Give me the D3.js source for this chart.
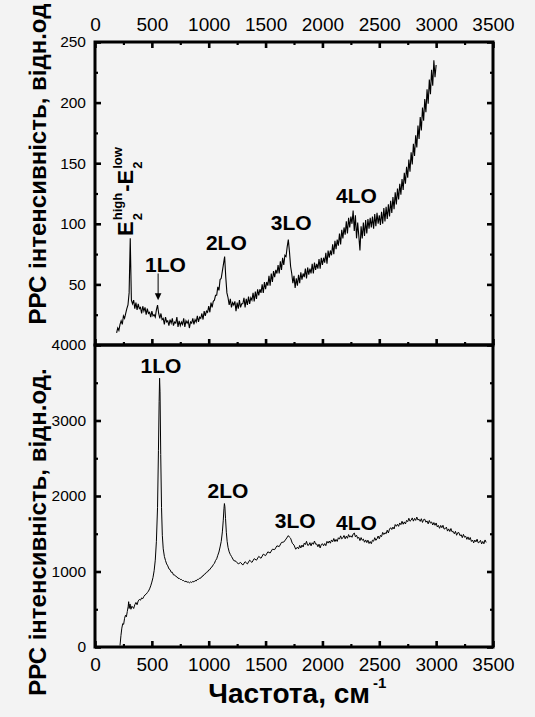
<!DOCTYPE html>
<html>
<head>
<meta charset="utf-8">
<script src="https://cdn.jsdelivr.net/npm/d3@7"></script>
<style>
  html, body { margin: 0; padding: 0; background: #f3f3f3; }
  svg { display: block; }
  text { font-family: "Liberation Sans", Arial, sans-serif; fill: #000; }
</style>
</head>
<body>
<svg id="chart" width="535" height="717"></svg>
<script>
// Raman spectrum, upper panel: [shift cm^-1, intensity]
const topSpectrum = [
[190,10],[200,14],[210,12],[220,17],[230,20],[240,17],[250,24],[260,22],[270,26],[280,30],[290,33],[300,43],[310,88],[320,37],[330,34],[340,37],[350,30],[360,35],[370,29],[380,34],[390,30],[400,31],[410,26],[420,32],[430,28],[440,31],[450,25],[460,30],[470,26],[480,27],[490,23],[500,28],[510,24],[520,25],[530,23],[540,29],[550,33],[560,26],[570,22],[580,26],[590,21],[600,22],[610,17],[620,23],[630,19],[640,20],[650,16],[660,21],[670,18],[680,22],[690,16],[700,19],[710,18],[720,23],[730,15],[740,20],[750,16],[760,19],[770,17],[780,22],[790,15],[800,20],[810,18],[820,20],[830,14],[840,19],[850,18],[860,22],[870,17],[880,21],[890,19],[900,24],[910,19],[920,23],[930,22],[940,26],[950,21],[960,28],[970,24],[980,28],[990,27],[1000,32],[1010,27],[1020,35],[1030,31],[1040,36],[1050,37],[1060,41],[1070,41],[1080,48],[1090,45],[1100,54],[1110,55],[1120,61],[1130,67],[1140,73],[1150,56],[1160,43],[1170,39],[1180,33],[1190,38],[1200,31],[1210,35],[1220,33],[1230,36],[1240,28],[1250,35],[1260,30],[1270,37],[1280,31],[1290,34],[1300,34],[1310,39],[1320,31],[1330,38],[1340,33],[1350,40],[1360,34],[1370,39],[1380,37],[1390,43],[1400,36],[1410,44],[1420,38],[1430,46],[1440,41],[1450,46],[1460,43],[1470,50],[1480,43],[1490,52],[1500,46],[1510,52],[1520,49],[1530,57],[1540,49],[1550,59],[1560,52],[1570,61],[1580,56],[1590,62],[1600,59],[1610,66],[1620,59],[1630,69],[1640,62],[1650,72],[1660,66],[1670,74],[1680,73],[1690,81],[1700,87],[1710,77],[1720,65],[1730,59],[1740,51],[1750,57],[1760,47],[1770,55],[1780,49],[1790,58],[1800,51],[1810,60],[1820,54],[1830,59],[1840,56],[1850,63],[1860,55],[1870,64],[1880,58],[1890,63],[1900,59],[1910,67],[1920,59],[1930,68],[1940,62],[1950,67],[1960,63],[1970,71],[1980,63],[1990,72],[2000,66],[2010,72],[2020,68],[2030,76],[2040,67],[2050,78],[2060,72],[2070,78],[2080,74],[2090,83],[2100,75],[2110,86],[2120,79],[2130,87],[2140,82],[2150,92],[2160,83],[2170,95],[2180,88],[2190,97],[2200,91],[2210,102],[2220,92],[2230,105],[2240,97],[2250,106],[2260,100],[2270,111],[2280,94],[2290,107],[2300,88],[2310,101],[2320,90],[2330,78],[2340,98],[2350,88],[2360,101],[2370,90],[2380,103],[2390,92],[2400,104],[2410,96],[2420,105],[2430,97],[2440,106],[2450,96],[2460,108],[2470,98],[2480,109],[2490,100],[2500,107],[2510,99],[2520,110],[2530,100],[2540,113],[2550,102],[2560,114],[2570,104],[2580,116],[2590,106],[2600,119],[2610,109],[2620,122],[2630,112],[2640,126],[2650,116],[2660,129],[2670,120],[2680,133],[2690,124],[2700,137],[2710,128],[2720,142],[2730,133],[2740,147],[2750,138],[2760,153],[2770,143],[2780,159],[2790,149],[2800,166],[2810,156],[2820,173],[2830,163],[2840,181],[2850,170],[2860,188],[2870,177],[2880,196],[2890,185],[2900,203],[2910,192],[2920,211],[2930,199],[2940,219],[2950,207],[2960,227],[2970,214],[2980,235],[2990,221],[3000,231]
];

// Raman spectrum, lower panel: [shift cm^-1, intensity]
const bottomSpectrum = [
[220,20],[228,150],[236,250],[244,310],[252,300],[260,380],[268,420],[276,400],[284,470],[292,540],[296,600],[300,510],[308,570],[316,500],[324,540],[332,530],[340,510],[350,560],[360,590],[370,560],[380,610],[390,630],[400,620],[410,650],[420,640],[430,670],[440,690],[450,700],[460,720],[470,740],[480,770],[490,810],[500,860],[510,920],[520,1010],[530,1150],[540,1400],[550,1850],[558,2600],[564,3250],[568,3560],[572,3380],[578,2550],[585,1850],[592,1480],[600,1300],[610,1200],[620,1145],[630,1100],[640,1075],[650,1035],[660,1025],[670,990],[680,990],[690,955],[700,955],[710,935],[720,930],[730,910],[740,910],[750,895],[760,895],[770,880],[780,880],[790,865],[800,872],[810,858],[820,862],[830,850],[840,862],[850,855],[860,868],[870,862],[880,880],[890,875],[900,895],[910,895],[920,912],[930,912],[940,935],[950,940],[960,962],[970,968],[980,990],[990,995],[1000,1020],[1010,1025],[1020,1052],[1030,1062],[1040,1090],[1050,1108],[1060,1145],[1070,1168],[1080,1215],[1090,1258],[1100,1325],[1110,1398],[1120,1525],[1128,1680],[1134,1830],[1138,1900],[1142,1860],[1148,1700],[1155,1520],[1162,1400],[1170,1320],[1180,1260],[1190,1225],
[1200,1200],[1220,1145],[1240,1135],[1260,1100],[1280,1120],[1300,1085],[1320,1130],[1340,1100],[1360,1150],[1380,1120],[1400,1170],[1420,1150],[1440,1200],[1460,1175],[1480,1230],[1500,1210],[1520,1260],[1540,1245],[1560,1295],[1580,1290],[1600,1340],[1620,1330],[1640,1385],[1660,1390],[1680,1430],[1700,1475],[1710,1455],[1720,1440],[1735,1375],[1750,1350],[1765,1295],
[1780,1323],[1790,1300],[1800,1345],[1810,1312],[1820,1350],[1830,1324],[1840,1375],[1850,1357],[1860,1400],[1870,1347],[1880,1350],[1890,1382],[1900,1340],[1910,1381],[1920,1360],[1930,1403],[1940,1362],[1950,1364],[1960,1328],[1970,1362],[1980,1312],[1990,1357],[2000,1368],[2010,1341],[2020,1370],[2030,1342],[2040,1399],[2050,1376],[2060,1404],[2070,1375],[2080,1418],[2090,1394],[2100,1437],[2110,1396],[2120,1425],[2130,1398],[2140,1447],[2150,1429],[2160,1472],[2170,1432],[2180,1447],[2190,1477],[2200,1433],[2210,1468],[2220,1440],[2230,1489],[2240,1455],[2250,1473],[2260,1453],[2270,1496],[2280,1510],[2290,1460],[2300,1480],[2310,1438],[2320,1453],[2330,1409],[2340,1449],[2350,1414],[2360,1429],[2370,1388],[2380,1418],[2390,1383],[2400,1415],[2410,1371],[2420,1397],[2430,1368],[2440,1415],[2450,1401],[2460,1448],[2470,1413],[2480,1433],[2490,1470],[2500,1433],[2510,1479],[2520,1462],[2530,1518],[2540,1490],[2550,1514],[2560,1500],[2570,1547],[2580,1510],[2590,1562],[2600,1580],[2610,1556],[2620,1588],[2630,1563],[2640,1622],[2650,1599],[2660,1626],[2670,1598],[2680,1643],[2690,1620],[2700,1665],[2710,1626],[2720,1657],[2730,1629],[2740,1677],[2750,1660],[2760,1705],[2770,1665],[2780,1680],[2790,1710],[2800,1667],[2810,1703],[2820,1677],[2830,1721],[2840,1682],[2850,1692],[2860,1664],[2870,1699],[2880,1650],[2890,1688],[2900,1692],[2910,1653],[2920,1670],[2930,1631],[2940,1676],[2950,1641],[2960,1656],[2970,1616],[2980,1648],[2990,1612],[3000,1643],[3010,1591],[3020,1610],[3030,1572],[3040,1610],[3050,1580],[3060,1612],[3070,1562],[3080,1567],[3090,1588],[3100,1535],[3110,1564],[3120,1530],[3130,1569],[3140,1525],[3150,1531],[3160,1500],[3170,1532],[3180,1480],[3190,1514],[3200,1515],[3210,1474],[3220,1488],[3230,1448],[3240,1492],[3250,1454],[3260,1466],[3270,1426],[3280,1458],[3290,1420],[3300,1450],[3310,1398],[3320,1417],[3330,1379],[3340,1417],[3350,1392],[3360,1428],[3370,1380],[3380,1387],[3390,1413],[3400,1365],[3410,1398],[3420,1367],[3430,1418],[3440,1385]
];

// Axis ticks
const shiftTicks = [0,500,1000,1500,2000,2500,3000,3500];
const shiftMinorTicks = [250,750,1250,1750,2250,2750,3250];
const topTicks = [50,100,150,200,250];
const topMinorTicks = [25,75,125,175,225];
const bottomTicks = [0,1000,2000,3000,4000];
const bottomMinorTicks = [500,1500,2500,3500];

// Peak annotations
const topPeakLabels = ["1LO","2LO","3LO","4LO"];
const topPeakShift = [620,1155,1725,2300];
const topPeakLevel = [60,78,95,117];
const bottomPeakLabels = ["1LO","2LO","3LO","4LO"];
const bottomPeakShift = [580,1170,1760,2300];
const bottomPeakLevel = [3630,1980,1580,1550];

const svg = d3.select("#chart");
const left = 95, right = 493, topY = 42, midY = 345, botY = 647;

const x = d3.scaleLinear().domain([0, 3500]).range([left, right]);
const yTop = d3.scaleLinear().domain([0, 250]).range([midY, topY]);
const yBot = d3.scaleLinear().domain([0, 4000]).range([botY, midY]);

svg.append("rect").attr("width", 535).attr("height", 717).attr("fill", "#f3f3f3");

const defs = svg.append("defs");
defs.append("clipPath").attr("id", "clipTop").append("rect")
  .attr("x", left).attr("y", topY).attr("width", right - left).attr("height", midY - topY);
defs.append("clipPath").attr("id", "clipBot").append("rect")
  .attr("x", left).attr("y", midY).attr("width", right - left).attr("height", botY - midY);

// spectra
const lineTop = d3.line().x(d => x(d[0])).y(d => yTop(d[1]));
const lineBot = d3.line().x(d => x(d[0])).y(d => yBot(d[1]));

svg.append("path").attr("clip-path", "url(#clipTop)")
  .attr("d", lineTop(topSpectrum))
  .attr("fill", "none").attr("stroke", "#000").attr("stroke-width", 1.1)
  .attr("stroke-linejoin", "miter");
svg.append("path").attr("clip-path", "url(#clipBot)")
  .attr("d", lineBot(bottomSpectrum))
  .attr("fill", "none").attr("stroke", "#000").attr("stroke-width", 1)
  .attr("stroke-linejoin", "round");

// axes helper: ticks point inward, domain line drawn by the frame
function drawAxis(axisFn, scale, values, size, pos, labels, fontSize, padding) {
  const ax = axisFn(scale).tickValues(values).tickSize(-size)
    .tickPadding(padding || 8)
    .tickFormat(labels ? d3.format("d") : () => "");
  const g = svg.append("g").attr("transform", pos).call(ax);
  g.select(".domain").remove();
  g.selectAll(".tick line").attr("stroke", "#000").attr("stroke-width", size > 4 ? 2.6 : 2.2);
  g.selectAll(".tick text").attr("font-size", fontSize || 16).attr("fill", "#000")
    .attr("font-family", "'Liberation Sans', Arial, sans-serif");
  return g;
}

// upper panel axes
drawAxis(d3.axisTop, x, shiftTicks, 6, `translate(0,${topY})`, true, 19, 11);
drawAxis(d3.axisTop, x, shiftMinorTicks, 3, `translate(0,${topY})`, false);
drawAxis(d3.axisBottom, x, shiftTicks, 6, `translate(0,${midY})`, false);
drawAxis(d3.axisBottom, x, shiftMinorTicks, 3, `translate(0,${midY})`, false);
drawAxis(d3.axisLeft, yTop, topTicks, 6, `translate(${left},0)`, true, 15.5, 9);
drawAxis(d3.axisLeft, yTop, topMinorTicks, 3, `translate(${left},0)`, false);
drawAxis(d3.axisRight, yTop, topTicks, 6, `translate(${right},0)`, false);
drawAxis(d3.axisRight, yTop, topMinorTicks, 3, `translate(${right},0)`, false);

// lower panel axes
drawAxis(d3.axisBottom, x, shiftTicks, 6, `translate(0,${botY})`, true, 19, 11);
drawAxis(d3.axisBottom, x, shiftMinorTicks, 3, `translate(0,${botY})`, false);
drawAxis(d3.axisLeft, yBot, bottomTicks, 6, `translate(${left},0)`, true, 15.5, 9);
drawAxis(d3.axisLeft, yBot, bottomMinorTicks, 3, `translate(${left},0)`, false);
drawAxis(d3.axisRight, yBot, bottomTicks, 6, `translate(${right},0)`, false);
drawAxis(d3.axisRight, yBot, bottomMinorTicks, 3, `translate(${right},0)`, false);

// panel frames
svg.append("rect").attr("x", left).attr("y", topY).attr("width", right - left).attr("height", midY - topY)
  .attr("fill", "none").attr("stroke", "#000").attr("stroke-width", 3);
svg.append("rect").attr("x", left).attr("y", midY).attr("width", right - left).attr("height", botY - midY)
  .attr("fill", "none").attr("stroke", "#000").attr("stroke-width", 3);

// axis titles
svg.append("text").attr("transform", "translate(46,164) rotate(-90)")
  .attr("text-anchor", "middle").attr("font-size", 24).attr("font-weight", "bold")
  .text("РРС інтенсивність, відн.од");
svg.append("text").attr("transform", "translate(46,532) rotate(-90)")
  .attr("text-anchor", "middle").attr("font-size", 24).attr("font-weight", "bold")
  .text("РРС інтенсивність, відн.од.");
svg.append("text").attr("x", 370).attr("y", 703).attr("text-anchor", "end")
  .attr("font-size", 28).attr("font-weight", "bold").text("Частота, см");
svg.append("text").attr("x", 373).attr("y", 688).attr("text-anchor", "start")
  .attr("font-size", 15).attr("font-weight", "bold").text("-1");

// peak labels
topPeakLabels.forEach((t, i) => {
  svg.append("text").attr("x", x(topPeakShift[i])).attr("y", yTop(topPeakLevel[i]))
    .attr("text-anchor", "middle").attr("font-size", 21).attr("font-weight", "bold").text(t);
});
bottomPeakLabels.forEach((t, i) => {
  svg.append("text").attr("x", x(bottomPeakShift[i])).attr("y", yBot(bottomPeakLevel[i]))
    .attr("text-anchor", "middle").attr("font-size", 21).attr("font-weight", "bold").text(t);
});

// arrow marking the weak 1LO line in the upper panel
const arrowShift = 555, arrowFrom = 59, arrowTo = 37;
const ax0 = x(arrowShift);
svg.append("line").attr("x1", ax0).attr("x2", ax0)
  .attr("y1", yTop(arrowFrom)).attr("y2", yTop(arrowTo) - 5)
  .attr("stroke", "#000").attr("stroke-width", 1);
svg.append("path")
  .attr("d", `M${ax0 - 3.3},${yTop(arrowTo) - 7} L${ax0 + 3.3},${yTop(arrowTo) - 7} L${ax0},${yTop(arrowTo)} Z`)
  .attr("fill", "#000");

// E2(high) - E2(low) label, written vertically
const eg = svg.append("g").attr("transform", `translate(133,${yTop(90)}) rotate(-90)`);
const big = 22, small = 13;
function piece(txt, px, py, size) {
  const t = eg.append("text").attr("x", px).attr("y", py)
    .attr("font-size", size).attr("font-weight", "bold").text(txt);
  return t.node().getComputedTextLength();
}
let cx = 0;
cx += piece("E", cx, 0, big) + 1;
let w1 = piece("high", cx, -11, small);
let w2 = piece("2", cx, 9, small);
cx += Math.max(w1, w2) + 1;
cx += piece("-E", cx, 0, big) + 1;
piece("low", cx, -11, small);
piece("2", cx, 9, small);
</script>
</body>
</html>
